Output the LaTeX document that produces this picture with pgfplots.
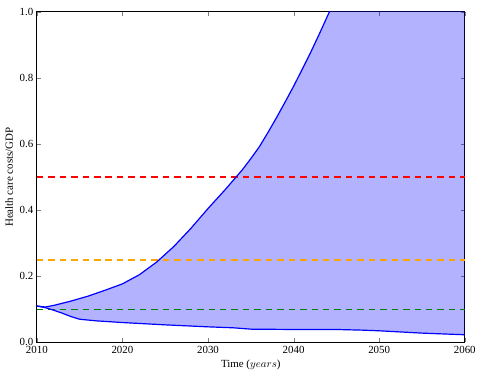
\documentclass[border=0pt]{standalone}
\usepackage{fontspec}
\setmainfont{Liberation Serif}
\usepackage{pgfplots}
\usepackage{pgfplotstable}
\pgfplotsset{compat=1.18}
\definecolor{mplgreen}{rgb}{0,0.5,0}
\definecolor{mplorange}{rgb}{1,0.647,0}
\definecolor{mplred}{rgb}{1,0,0}
\definecolor{mplblue}{rgb}{0,0,1}
\pgfplotstableread{
x y
2010 0.110
2011 0.107
2012 0.112
2014 0.125
2016 0.140
2018 0.158
2020 0.177
2022 0.205
2024 0.243
2026 0.290
2028 0.345
2030 0.405
2032 0.462
2034 0.522
2035 0.556
2036 0.592
2037 0.635
2038 0.680
2039 0.727
2040 0.775
2041 0.826
2042 0.878
2043 0.933
2044 0.990
2045 1.045
2050 1.35
2060 2.00
}\uppertab
\pgfplotstableread{
x y
2010 0.110
2011 0.105
2012 0.097
2013 0.088
2014 0.078
2015 0.070
2017 0.065
2020 0.060
2025 0.053
2030 0.047
2033 0.044
2035 0.040
2040 0.039
2045 0.039
2048 0.037
2050 0.035
2055 0.028
2060 0.023
}\lowertab
\pgfplotstableread{
x y
2010 0.110
2011 0.107
2012 0.112
2014 0.125
2016 0.140
2018 0.158
2020 0.177
2022 0.205
2024 0.243
2026 0.290
2028 0.345
2030 0.405
2032 0.462
2034 0.522
2035 0.556
2036 0.592
2037 0.635
2038 0.680
2039 0.727
2040 0.775
2041 0.826
2042 0.878
2043 0.933
2044 0.990
2045 1.045
2050 1.35
2060 2.00
2060 0.023
2055 0.028
2050 0.035
2048 0.037
2045 0.039
2040 0.039
2035 0.040
2033 0.044
2030 0.047
2025 0.053
2020 0.060
2017 0.065
2015 0.070
2014 0.078
2013 0.088
2012 0.097
2011 0.105
2010 0.110
}\bandtab
\begin{document}
\begin{tikzpicture}
\begin{axis}[
  scale only axis, width=430bp, height=332bp,
  xmin=2010, xmax=2060, ymin=0, ymax=1,
  xtick={2010,2020,2030,2040,2050,2060},
  ytick={0,0.2,0.4,0.6,0.8,1.0},
  xtick pos=both, ytick pos=both,
  tick align=inside,
  major tick length=4bp,
  /pgf/number format/assume math mode=true,
  xticklabel style={/pgf/number format/1000 sep={}},
  yticklabel style={/pgf/number format/fixed, /pgf/number format/fixed zerofill, /pgf/number format/precision=1},
  tick label style={font=\fontsize{11}{13}\selectfont},
  label style={font=\fontsize{11}{13}\selectfont},
  xlabel={Time ($years$)},
  ylabel={Health care costs/GDP},
  axis line style={line width=0.9bp},
]
\addplot[fill=mplblue, fill opacity=0.3, draw=none] table {\bandtab} -- cycle;
\addplot[draw=mplgreen, line width=1.5bp, dash pattern=on 6.5bp off 5bp] coordinates {(2010,0.1) (2060,0.1)};
\addplot[draw=mplorange, line width=1.5bp, dash pattern=on 6.5bp off 5bp] coordinates {(2010,0.25) (2060,0.25)};
\addplot[draw=mplred, line width=1.5bp, dash pattern=on 6.5bp off 5bp] coordinates {(2010,0.5) (2060,0.5)};
\addplot[mplblue, line width=1.2bp] table {\uppertab};
\addplot[mplblue, line width=1.2bp] table {\lowertab};
\end{axis}
\path ([xshift=-37bp,yshift=-29bp]current axis.south west) rectangle ([xshift=12bp,yshift=12bp]current axis.north east);
\end{tikzpicture}
\end{document}
